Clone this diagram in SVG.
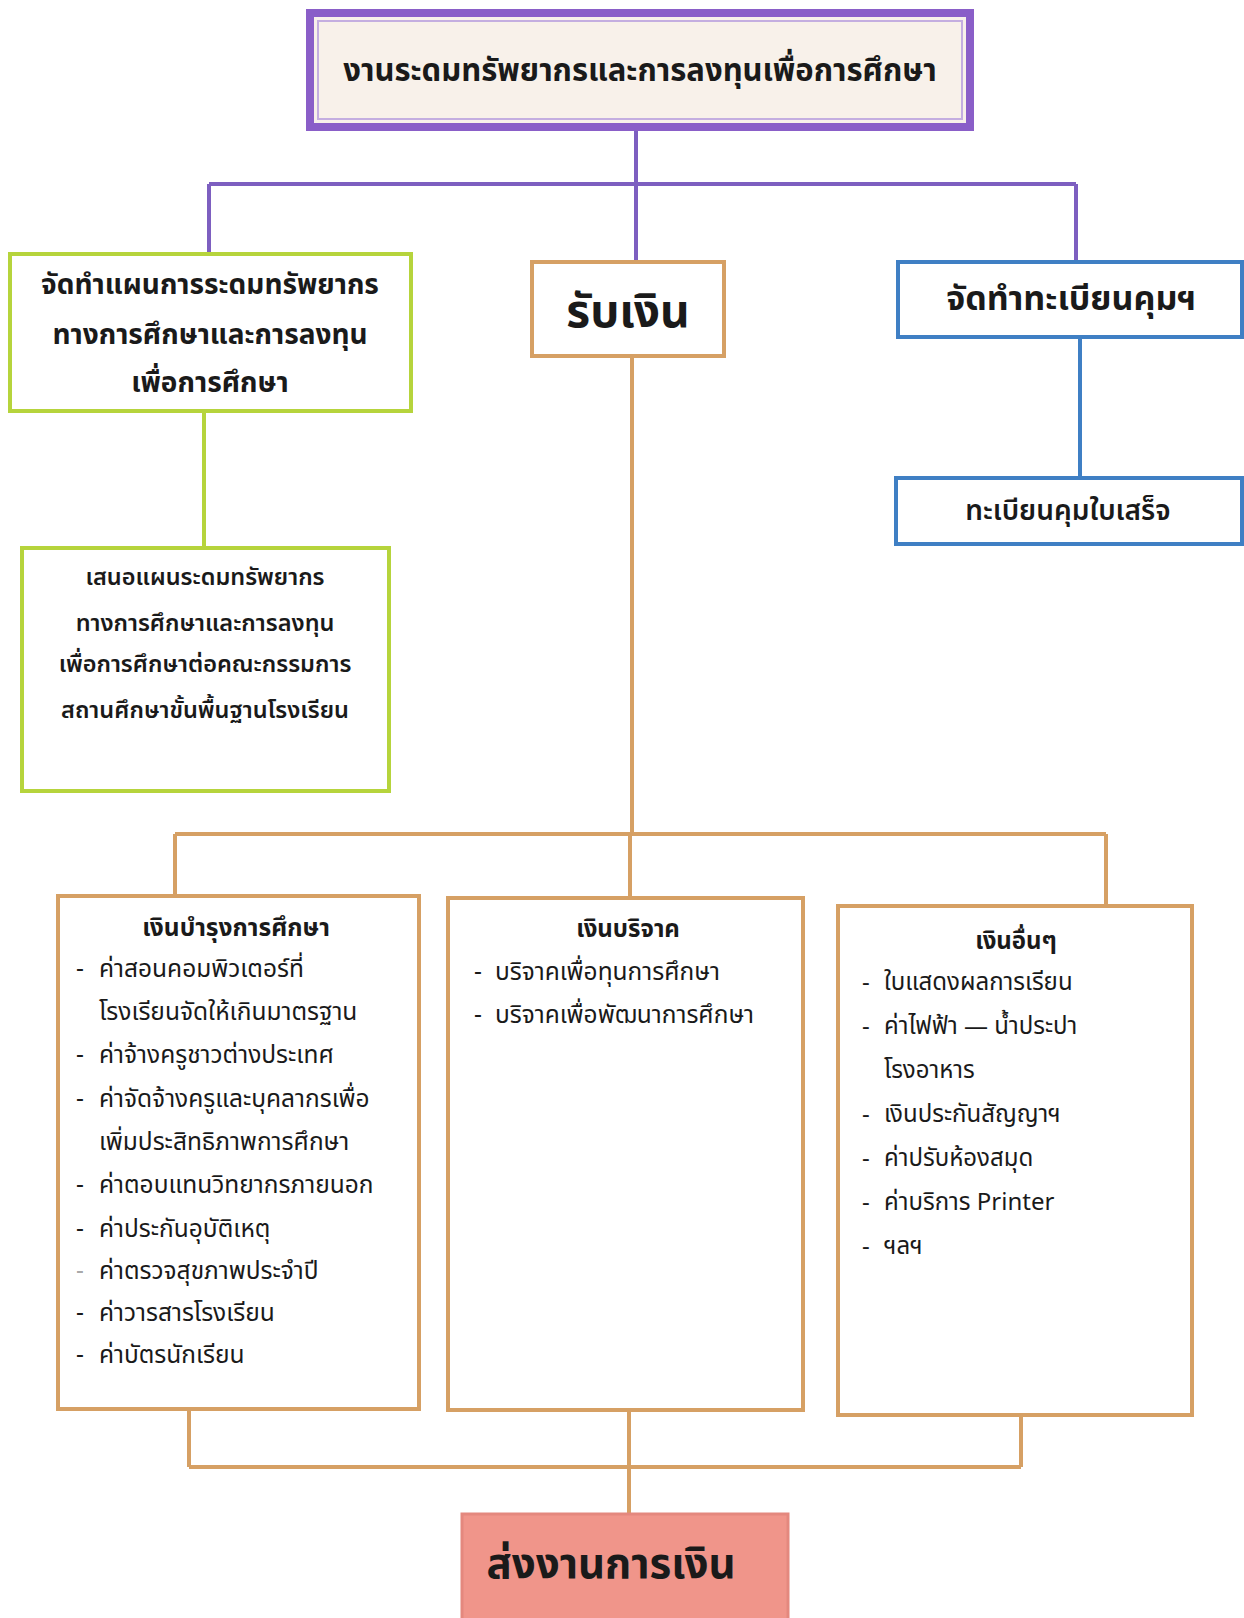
<svg xmlns="http://www.w3.org/2000/svg" width="1244" height="1618" viewBox="0 0 1244 1618">
<style>
text{font-family:"Noto Sans Thai","Noto Sans","DejaVu Sans",sans-serif;fill:#1a1a1a}
.c{text-anchor:middle}
.b{font-weight:bold}
.m{font-weight:600}
.pur{stroke:#7d5fc0;stroke-width:4;fill:none}
.grn{stroke:#b6d43c;stroke-width:4;fill:none}
.org{stroke:#d6a064;stroke-width:4;fill:none}
.blu{stroke:#3f7fc4;stroke-width:4;fill:none}
.item{font-size:24.5px}
.item2{font-size:24px}
</style>
<rect width="1244" height="1618" fill="#ffffff"/>
<g id="connectors">
  <path class="pur" d="M636 130 V184 M209 184 H1076 M209 184 V253 M636 184 V261 M1076 184 V261"/>
  <path class="grn" d="M204 413 V548"/>
  <path class="blu" d="M1080 338 V477"/>
  <path class="org" d="M632 357 V834 M175 834 H1106 M175 834 V896 M630 834 V898 M1106 834 V906"/>
  <path class="org" d="M189 1410 V1467 M1021 1416 V1467 M189 1467 H1021 M629 1411 V1514"/>
</g>
<g id="n-top">
  <rect x="310" y="13" width="660" height="114" fill="#f8f1ea" stroke="#8a5ec8" stroke-width="8"/>
  <rect x="318" y="21" width="644" height="98" fill="none" stroke="#c4aee0" stroke-width="2"/>
  <text class="c b" x="640" y="81" font-size="31">งานระดมทรัพยากรและการลงทุนเพื่อการศึกษา</text>
</g>
<g id="n-plan">
  <rect x="10" y="254" width="401" height="157" fill="#ffffff" class="grn"/>
  <text class="c b" x="210" y="294" font-size="28">จัดทำแผนการระดมทรัพยากร</text>
  <text class="c b" x="210" y="344" font-size="28">ทางการศึกษาและการลงทุน</text>
  <text class="c b" x="210" y="392" font-size="28">เพื่อการศึกษา</text>
</g>
<g id="n-propose">
  <rect x="22" y="548" width="367" height="243" fill="#ffffff" class="grn"/>
  <text class="c m" x="205" y="585" font-size="23.5">เสนอแผนระดมทรัพยากร</text>
  <text class="c m" x="205" y="631" font-size="23.5">ทางการศึกษาและการลงทุน</text>
  <text class="c m" x="205" y="672" font-size="23.5">เพื่อการศึกษาต่อคณะกรรมการ</text>
  <text class="c m" x="205" y="718" font-size="23.5">สถานศึกษาขั้นพื้นฐานโรงเรียน</text>
</g>
<g id="n-receive">
  <rect x="532" y="262" width="192" height="94" fill="#fdfaf5" class="org"/>
  <text class="c b" x="628" y="327" font-size="46">รับเงิน</text>
</g>
<g id="n-register">
  <rect x="898" y="262" width="344" height="75" fill="#ffffff" class="blu"/>
  <text class="c b" x="1071" y="310" font-size="34">จัดทำทะเบียนคุมฯ</text>
</g>
<g id="n-receipt">
  <rect x="896" y="478" width="346" height="66" fill="#ffffff" class="blu"/>
  <text class="c m" x="1068" y="520" font-size="28">ทะเบียนคุมใบเสร็จ</text>
</g>
<g id="n-maintenance">
  <rect x="58" y="896" width="361" height="513" fill="#ffffff" class="org"/>
  <text class="c b" x="236" y="936" font-size="24.5">เงินบำรุงการศึกษา</text>
  <text class="item" x="76" y="977">-</text><text class="item" x="99" y="977">ค่าสอนคอมพิวเตอร์ที่</text>
  <text class="item" x="99" y="1020">โรงเรียนจัดให้เกินมาตรฐาน</text>
  <text class="item" x="76" y="1063">-</text><text class="item" x="99" y="1063">ค่าจ้างครูชาวต่างประเทศ</text>
  <text class="item" x="76" y="1107">-</text><text class="item" x="99" y="1107">ค่าจัดจ้างครูและบุคลากรเพื่อ</text>
  <text class="item" x="99" y="1150">เพิ่มประสิทธิภาพการศึกษา</text>
  <text class="item" x="76" y="1193">-</text><text class="item" x="99" y="1193">ค่าตอบแทนวิทยากรภายนอก</text>
  <text class="item" x="76" y="1237">-</text><text class="item" x="99" y="1237">ค่าประกันอุบัติเหตุ</text>
  <text class="item" x="76" y="1279" fill-opacity="0.4">-</text><text class="item" x="99" y="1279">ค่าตรวจสุขภาพประจำปี</text>
  <text class="item" x="76" y="1321">-</text><text class="item" x="99" y="1321">ค่าวารสารโรงเรียน</text>
  <text class="item" x="76" y="1363">-</text><text class="item" x="99" y="1363">ค่าบัตรนักเรียน</text>
</g>
<g id="n-donation">
  <rect x="448" y="898" width="355" height="512" fill="#ffffff" class="org"/>
  <text class="c b" x="628" y="937" font-size="24">เงินบริจาค</text>
  <text class="item" x="474" y="980">-</text><text class="item" x="495" y="980">บริจาคเพื่อทุนการศึกษา</text>
  <text class="item" x="474" y="1023">-</text><text class="item" x="495" y="1023">บริจาคเพื่อพัฒนาการศึกษา</text>
</g>
<g id="n-other">
  <rect x="838" y="906" width="354" height="509" fill="#ffffff" class="org"/>
  <text class="c b" x="1016" y="949" font-size="24">เงินอื่นๆ</text>
  <text class="item2" x="862" y="990">-</text><text class="item2" x="884" y="990">ใบแสดงผลการเรียน</text>
  <text class="item2" x="862" y="1034">-</text><text class="item2" x="884" y="1034">ค่าไฟฟ้า — น้ำประปา</text>
  <text class="item2" x="884" y="1078">โรงอาหาร</text>
  <text class="item2" x="862" y="1122">-</text><text class="item2" x="884" y="1122">เงินประกันสัญญาฯ</text>
  <text class="item2" x="862" y="1166">-</text><text class="item2" x="884" y="1166">ค่าปรับห้องสมุด</text>
  <text class="item2" x="862" y="1210">-</text><text class="item2" x="884" y="1210">ค่าบริการ Printer</text>
  <text class="item2" x="862" y="1254">-</text><text class="item2" x="884" y="1254">ฯลฯ</text>
</g>
<g id="n-finance">
  <rect x="462" y="1514" width="326" height="106" fill="#f0958a" stroke="#e4887e" stroke-width="3"/>
  <text class="c b" x="611" y="1578" font-size="42">ส่งงานการเงิน</text>
</g>
</svg>
